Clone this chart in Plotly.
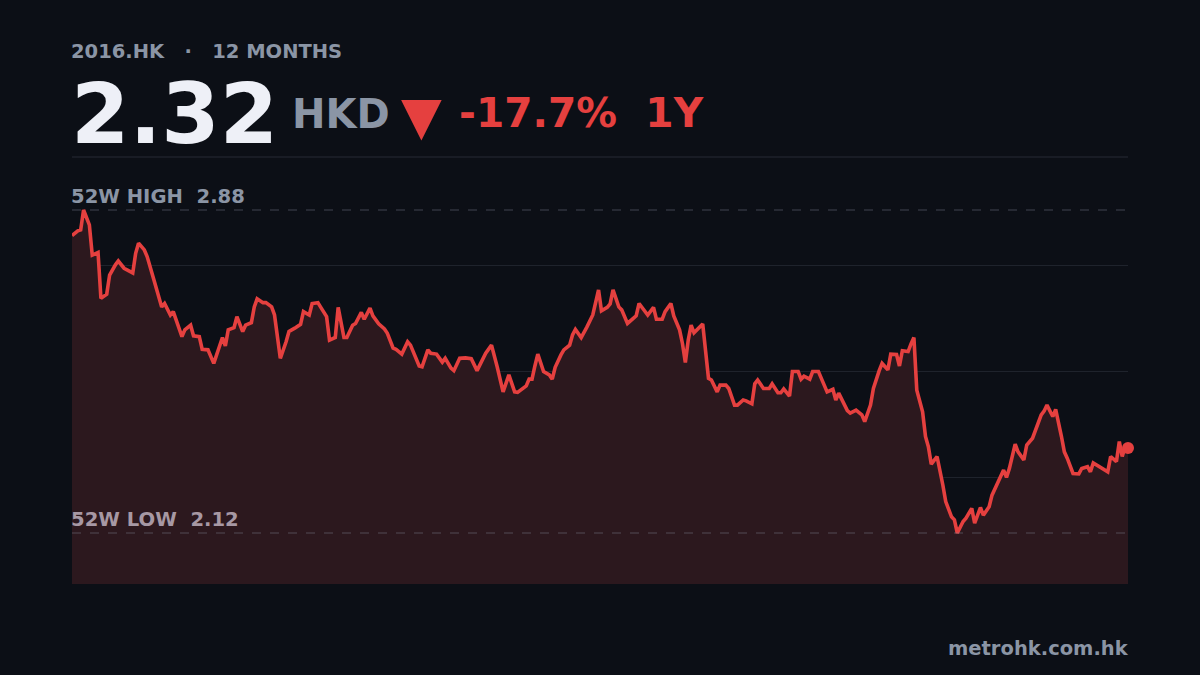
import plotly.graph_objects as go

# 12 month closing prices for 2016.HK (day offset from start of window, price in HKD)
days = [0, 2, 3, 4, 6, 7, 9, 10, 12, 13, 15, 16, 18, 19, 21, 22, 23, 25, 26, 28,
        29, 31, 32, 34, 35, 38, 39, 41, 42, 44, 45, 47, 49, 51, 52, 53, 54, 56, 57, 59,
        60, 62, 63, 64, 66, 67, 69, 70, 72, 74, 75, 77, 79, 80, 82, 83, 85, 86, 88, 89,
        91, 92, 94, 95, 97, 98, 100, 101, 103, 104, 106, 108, 109, 111, 112, 114, 116, 117, 119, 120,
        121, 123, 124, 126, 128, 129, 131, 132, 134, 136, 138, 140, 143, 145, 147, 149, 151, 153, 154, 157,
        158, 159, 160, 161, 163, 165, 166, 167, 169, 170, 172, 173, 174, 176, 178, 180, 182, 183, 185, 186,
        187, 189, 190, 192, 194, 195, 196, 198, 199, 201, 202, 204, 205, 207, 208, 210, 211, 212, 213, 214,
        215, 218, 220, 221, 223, 224, 226, 227, 229, 230, 232, 233, 235, 236, 237, 239, 241, 242, 244, 245,
        246, 248, 249, 251, 252, 253, 255, 256, 258, 260, 261, 263, 264, 265, 268, 269, 271, 273, 274, 276,
        277, 279, 280, 282, 283, 285, 286, 287, 289, 290, 291, 292, 294, 295, 296, 297, 299, 301, 302, 304,
        305, 306, 308, 309, 311, 312, 314, 315, 317, 318, 321, 322, 323, 324, 326, 327, 329, 330, 332, 333,
        335, 336, 337, 339, 340, 342, 343, 344, 346, 348, 349, 351, 352, 353, 355, 358, 359, 361, 362, 363,
        364, 365]
prices = [2.82, 2.831, 2.833, 2.88, 2.845, 2.774, 2.78, 2.672, 2.682, 2.727, 2.751, 2.76, 2.743, 2.74, 2.732, 2.778, 2.802, 2.786, 2.77, 2.723,
          2.701, 2.652, 2.66, 2.633, 2.641, 2.582, 2.598, 2.609, 2.584, 2.582, 2.552, 2.551, 2.519, 2.558, 2.58, 2.56, 2.598, 2.603, 2.629, 2.594,
          2.609, 2.615, 2.652, 2.671, 2.662, 2.662, 2.652, 2.633, 2.531, 2.57, 2.594, 2.602, 2.611, 2.641, 2.633, 2.66, 2.662, 2.651, 2.629, 2.574,
          2.58, 2.651, 2.58, 2.58, 2.609, 2.613, 2.639, 2.623, 2.649, 2.631, 2.612, 2.6, 2.59, 2.555, 2.552, 2.541, 2.57, 2.562, 2.527, 2.513,
          2.511, 2.551, 2.543, 2.541, 2.522, 2.531, 2.508, 2.502, 2.531, 2.532, 2.53, 2.502, 2.543, 2.562, 2.51, 2.452, 2.492, 2.452, 2.451, 2.466,
          2.482, 2.482, 2.513, 2.541, 2.5, 2.492, 2.482, 2.51, 2.539, 2.551, 2.562, 2.586, 2.599, 2.58, 2.605, 2.633, 2.692, 2.643, 2.651, 2.659,
          2.692, 2.652, 2.645, 2.613, 2.625, 2.631, 2.66, 2.641, 2.633, 2.651, 2.623, 2.623, 2.641, 2.66, 2.631, 2.598, 2.566, 2.521, 2.574, 2.609,
          2.591, 2.612, 2.484, 2.48, 2.452, 2.468, 2.468, 2.46, 2.421, 2.421, 2.433, 2.431, 2.424, 2.471, 2.48, 2.46, 2.46, 2.471, 2.45, 2.45,
          2.459, 2.442, 2.5, 2.5, 2.482, 2.489, 2.482, 2.5, 2.5, 2.468, 2.452, 2.458, 2.433, 2.449, 2.408, 2.402, 2.409, 2.398, 2.382, 2.421,
          2.46, 2.502, 2.519, 2.504, 2.541, 2.54, 2.513, 2.549, 2.547, 2.565, 2.58, 2.456, 2.405, 2.347, 2.323, 2.282, 2.3, 2.233, 2.194, 2.158,
          2.151, 2.12, 2.147, 2.155, 2.178, 2.143, 2.18, 2.162, 2.182, 2.209, 2.252, 2.268, 2.251, 2.272, 2.329, 2.311, 2.292, 2.327, 2.343, 2.362,
          2.398, 2.407, 2.421, 2.394, 2.411, 2.347, 2.311, 2.296, 2.26, 2.259, 2.272, 2.276, 2.264, 2.285, 2.276, 2.264, 2.3, 2.288, 2.335, 2.3,
          2.323, 2.32]

ticker = "2016.HK"
last_price = 2.32
change_pct = "-17.7%"
high_52w = 2.88
low_52w = 2.12

bg = "#0c0f16"
red = "#e5403f"
grey = "#8b95a5"

fig = go.Figure()
fig.add_trace(go.Scatter(x=days, y=prices, mode="lines",
                         line=dict(color=red, width=3.6),
                         fill="tozeroy", fillcolor="#2c181e",
                         hoverinfo="skip"))
# last price dot
fig.add_trace(go.Scatter(x=[days[-1]], y=[prices[-1]], mode="markers",
                         marker=dict(color=red, size=12), cliponaxis=False,
                         hoverinfo="skip"))

# 52 week high / low dashed lines
for lvl in [high_52w, low_52w]:
    fig.add_shape(type="line", xref="paper", x0=0, x1=1, yref="y", y0=lvl, y1=lvl,
                  line=dict(color="rgba(139,149,165,0.28)", width=1.5, dash="dash"))
# separator under the header
fig.add_shape(type="line", xref="paper", x0=0, x1=1, yref="paper", y0=1.005, y1=1.005,
              line=dict(color="#1e222b", width=1.5))

F = "DejaVu Sans"
ann = [
    dict(x=0, y=1.254, text=f"<b>{ticker}   ·   12 MONTHS</b>", font=dict(size=19.5, color=grey),
         xanchor="left", yanchor="middle"),
    dict(x=0, y=1.106, text=f"<b>{last_price:.2f}</b>", font=dict(size=84, color="#eef0f7"),
         xanchor="left", yanchor="middle"),
    dict(x=0.2093, y=1.105, text="<b>HKD</b>", font=dict(size=40, color=grey),
         xanchor="left", yanchor="middle"),
    dict(x=0.3125, y=1.103, text="▼", font=dict(size=53, color=red),
         xanchor="left", yanchor="middle"),
    dict(x=0.3674, y=1.108, text=f"<b>{change_pct}  1Y</b>", font=dict(size=40.7, color=red),
         xanchor="left", yanchor="middle"),
    dict(x=0, y=high_52w, yref="y", text=f"<b>52W HIGH  {high_52w:.2f}</b>",
         font=dict(size=19.6, color=grey), xanchor="left", yanchor="bottom", yshift=0),
    dict(x=0, y=low_52w, yref="y", text=f"<b>52W LOW  {low_52w:.2f}</b>",
         font=dict(size=19.6, color="#a798a4"), xanchor="left", yanchor="bottom", yshift=0),
    dict(x=1, y=-0.1506, text="<b>metrohk.com.hk</b>", font=dict(size=19.5, color=grey),
         xanchor="right", yanchor="middle", xshift=3),
]
for a in ann:
    a.setdefault("yref", "paper")
    a["xref"] = "paper"
    a["showarrow"] = False
    a["font"]["family"] = F
    a["xshift"] = a.get("xshift", -3)
    fig.add_annotation(**a)

fig.update_layout(
    width=1200, height=675,
    paper_bgcolor=bg, plot_bgcolor=bg,
    margin=dict(l=72, r=72, t=159, b=91),
    showlegend=False,
    font=dict(family=F),
    xaxis=dict(range=[0, 365], visible=False, fixedrange=True),
    yaxis=dict(range=[2.0, 3.0], tickvals=[2.25, 2.5, 2.75], showticklabels=False,
               gridcolor="#1f232c", gridwidth=1, zeroline=False, fixedrange=True),
)

# page body margin would shift the figure, drop it
fig.write_html("out.html", config={"displayModeBar": False},
               post_script="document.body.style.margin='0';document.body.style.background='#0c0f16';")
